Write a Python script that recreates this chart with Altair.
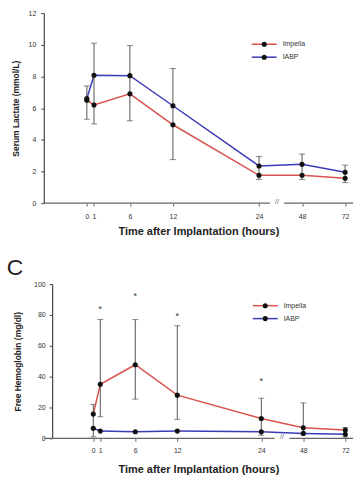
import altair as alt
import pandas as pd

# ---------------- data ----------------
hours = [0, 1, 6, 12, 24, 48, 72]
hour_pos = [0, 1, 6, 12, 24, 30, 36]          # position on the broken time axis
series = ["Impella", "IABP"]
colors = ["#d9534f", "#3b3bb8"]

lac_impella = [6.5, 6.2, 6.9, 4.95, 1.76, 1.76, 1.57]
lac_iabp = [6.6, 8.08, 8.05, 6.15, 2.35, 2.45, 1.95]
lac_err_low = [5.3, 5.0, 5.2, 2.75, 1.5, 1.5, 1.3]
lac_err_high = [7.4, 10.1, 9.95, 8.5, 2.95, 3.1, 2.4]

hb_impella = [15.7, 35.0, 47.7, 28.0, 12.9, 6.9, 5.4]
hb_iabp = [6.5, 4.7, 4.3, 4.7, 4.3, 3.2, 2.6]
hb_err_low = [1.0, 14.0, 25.4, 12.3, 2.0, 3.5, 0.8]
hb_err_high = [22.0, 77.0, 77.0, 73.0, 26.0, 23.0, 7.0]
hb_sig_hours = [1, 6, 12, 24]
hb_sig_y = [85.0, 93.5, 80.6, 38.7]

label_expr = " : ".join(
    f"datum.value == {p} ? '{h}'" for p, h in zip(hour_pos, hours)
) + " : ''"

XMAX = 37.1
FONT = "Liberation Sans"


def make_panel(imp, iabp, lo, hi, ymax, ystep, ytitle, width, height, xmin,
               yoffset, brk, legend_x, legend_y, ylabpad, ytitpad, xlabpad,
               xtitpad, sig=None, letter=None):
    xscale = alt.Scale(domain=[xmin, XMAX], nice=False, zero=False)
    yscale = alt.Scale(domain=[0, ymax], nice=False, zero=True)
    cscale = alt.Scale(domain=series, range=colors)

    rows = []
    for s, vals in zip(series, [imp, iabp]):
        for h, p, v in zip(hours, hour_pos, vals):
            rows.append({"series": s, "hour": h, "pos": p, "value": v})
    df = pd.DataFrame(rows)
    err = pd.DataFrame({"pos": hour_pos, "lo": lo, "hi": hi})

    xaxis = alt.Axis(values=hour_pos, labelExpr=label_expr,
                     title="Time after Implantation (hours)", domain=False,
                     grid=False, tickSize=3, tickColor="#666", labelFontSize=7,
                     labelPadding=xlabpad, labelColor="#333", labelFlush=False,
                     labelOverlap=False, titleFontSize=11, titleFontWeight="bold",
                     titlePadding=xtitpad, titleColor="#222")
    yaxis = alt.Axis(values=list(range(0, ymax + 1, ystep)), title=ytitle,
                     grid=False, domainColor="#444", domainWidth=1.2,
                     tickSize=3, tickColor="#444", labelFontSize=7,
                     labelPadding=ylabpad, labelColor="#333", offset=yoffset,
                     titleFontSize=8.5, titleFontWeight="bold",
                     titlePadding=ytitpad, titleColor="#222")

    def X(f):
        return alt.X(f, scale=xscale, axis=xaxis)

    def Y(f):
        return alt.Y(f, scale=yscale, axis=yaxis)

    # broken x axis line
    axdf = pd.DataFrame({"x1": [xmin, brk[1]], "x2": [brk[0], XMAX], "y": [0, 0]})
    axis_line = alt.Chart(axdf).mark_rule(color="#666", strokeWidth=1.2).encode(
        x=X("x1:Q"), x2="x2:Q", y=Y("y:Q"),
    )
    brk_txt = alt.Chart(pd.DataFrame({"x": [(brk[0] + brk[1]) / 2], "y": [0], "t": ["//"]})).mark_text(
        fontSize=7, color="#666", font=FONT, dy=-1
    ).encode(x=X("x:Q"), y=Y("y:Q"), text="t:N")

    base = alt.Chart(df)
    lines = base.mark_line(strokeWidth=1.5).encode(
        x=X("pos:Q"), y=Y("value:Q"),
        color=alt.Color("series:N", scale=cscale, legend=None),
        detail="series:N",
    )
    ebar = alt.Chart(err).mark_rule(color="#555", strokeWidth=1).encode(
        x=X("pos:Q"), y=Y("lo:Q"), y2="hi:Q",
    )
    cap_lo = alt.Chart(err).mark_tick(color="#555", orient="horizontal", size=6, thickness=1).encode(
        x=X("pos:Q"), y=Y("lo:Q"),
    )
    cap_hi = alt.Chart(err).mark_tick(color="#555", orient="horizontal", size=6, thickness=1).encode(
        x=X("pos:Q"), y=Y("hi:Q"),
    )
    pts = base.mark_point(filled=True, size=26, opacity=1, color="#111").encode(
        x=X("pos:Q"), y=Y("value:Q"),
    )

    # legend (drawn inside the plot)
    leg = pd.DataFrame({"series": series, "ly": [legend_y, legend_y + 13]})
    leg_line = alt.Chart(leg).mark_rule(strokeWidth=1.5).encode(
        x=alt.value(legend_x), x2=alt.value(legend_x + 25),
        y=alt.Y("ly:Q", scale=None),
        color=alt.Color("series:N", scale=cscale, legend=None),
    )
    leg_pt = alt.Chart(leg).mark_point(filled=True, size=26, opacity=1, color="#111").encode(
        x=alt.value(legend_x + 12.5), y=alt.Y("ly:Q", scale=None),
    )
    leg_txt = alt.Chart(leg).mark_text(align="left", baseline="middle", fontSize=7,
                                       color="#333", font=FONT).encode(
        x=alt.value(legend_x + 31), y=alt.Y("ly:Q", scale=None), text="series:N",
    )

    layers = [axis_line, brk_txt, lines, ebar, cap_lo, cap_hi, pts,
              leg_line, leg_pt, leg_txt]
    if sig is not None:
        sdf = pd.DataFrame({"pos": sig[0], "y": sig[1], "t": ["*"] * len(sig[0])})
        layers.append(alt.Chart(sdf).mark_text(fontSize=9, color="#333", font=FONT, baseline="middle", dy=2).encode(
            x=X("pos:Q"), y=Y("y:Q"), text="t:N",
        ))
    if letter is not None:
        layers.append(alt.Chart(pd.DataFrame({"t": [letter]})).mark_text(
            fontSize=23, color="#222", font=FONT, align="left", baseline="alphabetic"
        ).encode(x=alt.value(-37.3), y=alt.value(-9), text="t:N"))

    return alt.layer(*layers).properties(width=width, height=height)


p1 = make_panel(lac_impella, lac_iabp, lac_err_low, lac_err_high, 12, 2,
                "Serum Lactate (mmol/L)", 310.7, 191, -6.0, 0, (25.5, 27.5),
                209, 31.3, 5, 8, 6, 6)
p2 = make_panel(hb_impella, hb_iabp, hb_err_low, hb_err_high, 100, 20,
                "Free Hemoglobin (mg/dl)", 310.7, 155, -7.07, -8.4, (25.9, 28.0),
                210, 21.7, 4, 11, 5, 10, sig=(hb_sig_hours, hb_sig_y), letter="C")

chart = alt.vconcat(p1, p2, spacing=81.3, bounds="flush").properties(
    padding={"left": 6, "top": 8, "right": 0, "bottom": 0},
    background="white",
).configure_view(stroke=None).configure_axis(labelFont=FONT, titleFont=FONT)

chart.save("out.html", embed_options={"renderer": "svg", "actions": False})
